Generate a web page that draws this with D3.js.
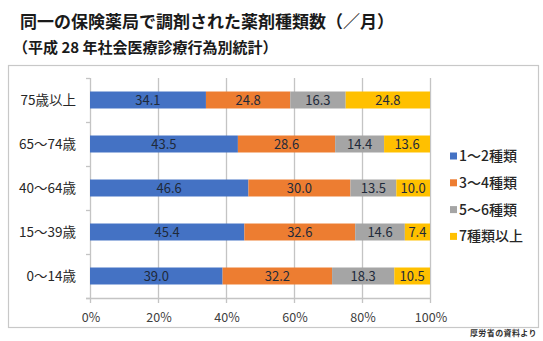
<!DOCTYPE html>
<html>
<head>
<meta charset="utf-8">
<script src="https://cdn.jsdelivr.net/npm/d3@7"></script>
<style>
  html, body { margin: 0; padding: 0; background: #fff; }
  svg { display: block; }
  text { font-family: "Noto Sans CJK JP", "Noto Sans", sans-serif; }
</style>
</head>
<body>
<svg id="chart" width="543" height="341"></svg>
<script>
const titleLine1 = "同一の保険薬局で調剤された薬剤種類数（／月）";
const titleLine2 = "（平成 28 年社会医療診療行為別統計）";
const sourceNote = "厚労省の資料より";

const categories = ["75歳以上", "65～74歳", "40～64歳", "15～39歳", "0～14歳"];
const seriesNames = ["1～2種類", "3～4種類", "5～6種類", "7種類以上"];
const seriesColors = ["#4472C4", "#ED7D31", "#A5A5A5", "#FFC000"];
const s1 = [34.1, 43.5, 46.6, 45.4, 39.0];
const s2 = [24.8, 28.6, 30.0, 32.6, 32.2];
const s3 = [16.3, 14.4, 13.5, 14.6, 18.3];
const s4 = [24.8, 13.6, 10.0, 7.4, 10.5];
const tickValues = [0, 20, 40, 60, 80, 100];

const seriesValues = [s1, s2, s3, s4];
const rows = categories.map((c, i) => {
  const r = { cat: c };
  seriesNames.forEach((s, j) => r[s] = seriesValues[j][i]);
  return r;
});

const svg = d3.select("#chart");

// titles
svg.append("text").attr("x", 20).attr("y", 28)
  .attr("font-size", 17).attr("font-weight", "bold").attr("fill", "#1a1a1a")
  .text(titleLine1);
svg.append("text").attr("x", 13).attr("y", 53)
  .attr("font-size", 15).attr("font-weight", "bold").attr("fill", "#1a1a1a")
  .text(titleLine2);

// chart frame
svg.append("rect").attr("x", 8.5).attr("y", 65.5).attr("width", 530).attr("height", 262)
  .attr("fill", "#fff").attr("stroke", "#c8c8c8").attr("stroke-width", 1.2);

const x = d3.scaleLinear().domain([0, 100]).range([90, 430]);
const y = d3.scaleBand().domain(categories).range([78, 298])
  .paddingInner(0.614).paddingOuter(0.307);

const gridColor = "#c4c4c4";

// vertical gridlines with tick extension below
svg.append("g").selectAll("line").data(tickValues).join("line")
  .attr("x1", d => Math.round(x(d)) + 0.5).attr("x2", d => Math.round(x(d)) + 0.5)
  .attr("y1", 78).attr("y2", 303)
  .attr("stroke", gridColor).attr("stroke-width", 1.3);

// bottom axis line
svg.append("line").attr("x1", 86).attr("x2", 431).attr("y1", 298.5).attr("y2", 298.5)
  .attr("stroke", gridColor).attr("stroke-width", 1.3);

// left ticks at band boundaries
const boundaries = categories.map(c => y(c) - y.step() * y.paddingInner() / 2)
  .concat([y.range()[1]]);
svg.append("g").selectAll("line").data(boundaries).join("line")
  .attr("x1", 86).attr("x2", 90)
  .attr("y1", d => Math.round(d) + 0.5).attr("y2", d => Math.round(d) + 0.5)
  .attr("stroke", gridColor).attr("stroke-width", 1.3);

// x tick labels
svg.append("g").selectAll("text").data(tickValues).join("text")
  .attr("x", d => x(d) + 1).attr("y", 321.5)
  .attr("text-anchor", "middle").attr("font-size", 12.5).attr("fill", "#404040")
  .text(d => d + "%");

// category labels
svg.append("g").selectAll("text").data(categories).join("text")
  .attr("x", 76).attr("y", d => y(d) + y.bandwidth() / 2 + 4.7)
  .attr("text-anchor", "end").attr("font-size", 13.5).attr("fill", "#262626")
  .text(d => d);

// stacked bars
const stacked = d3.stack().keys(seriesNames)(rows);
const layer = svg.append("g").selectAll("g").data(stacked).join("g")
  .attr("fill", (d, i) => seriesColors[i]);
layer.selectAll("rect").data(d => d).join("rect")
  .attr("x", d => x(d[0])).attr("width", d => Math.max(0, Math.min(x(d[1]), x(100)) - x(d[0])))
  .attr("y", d => y(d.data.cat)).attr("height", y.bandwidth());

// value labels
layer.selectAll("text").data(d => d).join("text")
  .attr("x", d => (x(d[0]) + Math.min(x(d[1]), x(100))) / 2)
  .attr("y", d => y(d.data.cat) + y.bandwidth() / 2 + 4.5)
  .attr("text-anchor", "middle").attr("font-size", 13).attr("fill", "#1f2a3a")
  .attr("font-family", "'Noto Sans', sans-serif")
  .text(d => (d[1] - d[0]).toFixed(1));

// legend
const legend = svg.append("g").selectAll("g").data(seriesNames).join("g")
  .attr("transform", (d, i) => `translate(450, ${156 + i * 26.8})`);
legend.append("rect").attr("x", 0).attr("y", -3.5).attr("width", 7).attr("height", 7)
  .attr("fill", (d, i) => seriesColors[i]);
legend.append("text").attr("x", 9).attr("y", 5)
  .attr("font-size", 14).attr("font-weight", 500).attr("fill", "#262626")
  .text(d => d);

// source note
svg.append("text").attr("x", 537).attr("y", 336)
  .attr("text-anchor", "end").attr("font-size", 8).attr("font-weight", "bold")
  .attr("letter-spacing", 0.4).attr("fill", "#333")
  .text(sourceNote);
</script>
</body>
</html>
